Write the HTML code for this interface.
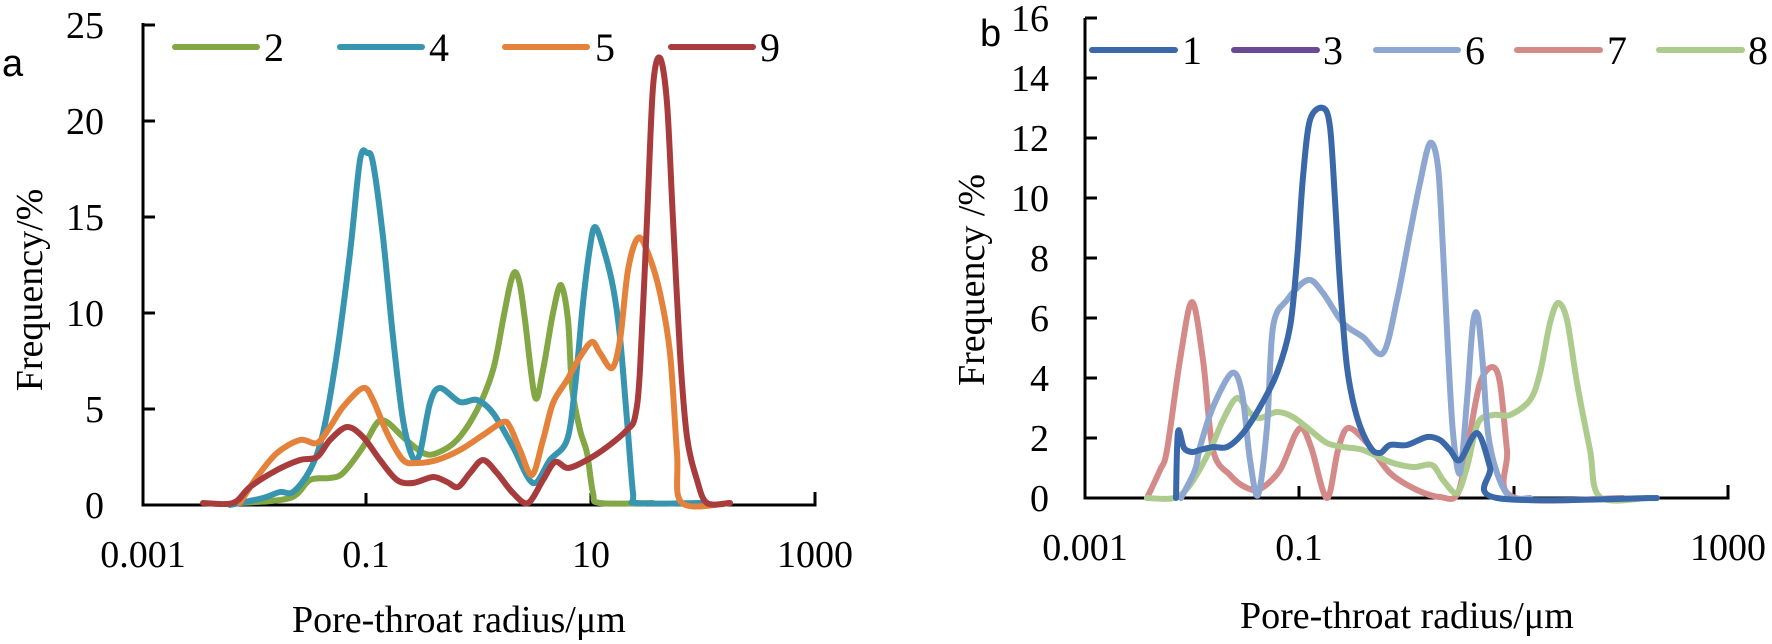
<!DOCTYPE html>
<html><head><meta charset="utf-8"><style>
html,body{margin:0;padding:0;background:#fff;}
svg{display:block;}
text{font-family:"Liberation Serif",serif;fill:#000;}
.c{fill:none;stroke-width:6;stroke-linejoin:round;stroke-linecap:round;}
</style></head><body>
<svg id="s" width="1772" height="644" viewBox="0 0 1772 644" xmlns="http://www.w3.org/2000/svg">
<text x="2" y="76" style="font-family:'Liberation Sans',sans-serif;font-size:38px">a</text>
<g stroke="#000" stroke-width="3" fill="none">
<path d="M143,23 V505 H815 V492"/>
<path d="M143,25 h12 M143,121 h12 M143,217 h12 M143,313 h12 M143,409 h12"/>
<path d="M366,505 v-12 M591,505 v-12"/>
</g>
<g font-size="38" text-anchor="end">
<text x="104" y="38">25</text><text x="104" y="134">20</text><text x="104" y="230">15</text>
<text x="104" y="326">10</text><text x="104" y="422">5</text><text x="104" y="518">0</text>
</g>
<g font-size="38" text-anchor="middle">
<text x="143" y="567">0.001</text><text x="366" y="567">0.1</text><text x="591" y="567">10</text><text x="815" y="567">1000</text>
</g>
<text x="292" y="632" font-size="38">Pore-throat radius/μm</text>
<text transform="translate(42,290) rotate(-90)" font-size="38" text-anchor="middle">Frequency/%</text>
<g class="c" stroke-width="6">
<line x1="175" y1="47" x2="257" y2="47" stroke="#82a744"/>
<line x1="340" y1="47" x2="422" y2="47" stroke="#3795b0"/>
<line x1="505" y1="47" x2="587" y2="47" stroke="#e4813a"/>
<line x1="671" y1="47" x2="753" y2="47" stroke="#a83c3c"/>
</g>
<g font-size="40"><text x="264" y="61">2</text><text x="429" y="61">4</text><text x="595" y="61">5</text><text x="760" y="61">9</text></g>
<polyline class="c sm" stroke="#82a744" points="240,503 290,498 310,480 330,478 343,473 363,447 377,423 387,422 403,437 423,453 437,453 457,440 477,410 493,370 503,320 510,285 515,272 520,285 525,320 535,397 543,370 553,313 561,285 568,320 572,387 580,430 587,453 593,493 600,503 653,503"/>
<polyline class="c sm" stroke="#3795b0" points="230,505 263,498 280,492 293,492 310,470 323,433 337,353 350,253 360,160 367,153 373,163 383,237 393,337 403,420 413,458 420,453 430,403 440,388 460,402 477,400 493,413 513,447 533,483 550,460 567,440 575,387 583,303 590,247 595,227 603,247 613,287 620,337 627,420 633,493 637,503 700,503"/>
<polyline class="c sm" stroke="#e4813a" points="240,503 257,477 277,453 300,440 317,443 330,427 343,407 363,388 373,400 387,433 403,460 417,463 437,460 460,450 483,435 503,422 510,427 520,450 532,475 543,440 553,403 567,380 580,357 592,342 600,353 612,368 620,340 628,270 638,238 648,253 660,293 670,353 677,453 682,503 730,503"/>
<polyline class="c sm" stroke="#a83c3c" points="203,503 233,503 250,487 277,470 300,460 317,457 330,440 347,427 363,437 380,460 397,480 413,483 433,477 447,482 458,487 470,473 483,460 497,473 513,493 528,503 543,480 555,462 568,468 587,460 607,447 627,430 635,417 640,370 647,220 653,87 660,58 667,103 673,220 680,353 687,437 697,480 707,503 730,503"/>

<text x="980" y="46" style="font-family:'Liberation Sans',sans-serif;font-size:38px">b</text>
<g stroke="#000" stroke-width="3" fill="none">
<path d="M1085,18 V498 H1728 V485"/>
<path d="M1085,18 h12 M1085,78 h12 M1085,138 h12 M1085,198 h12 M1085,258 h12 M1085,318 h12 M1085,378 h12 M1085,438 h12"/>
<path d="M1299,498 v-12 M1514,498 v-12"/>
</g>
<g font-size="38" text-anchor="end">
<text x="1049" y="31">16</text><text x="1049" y="91">14</text><text x="1049" y="151">12</text><text x="1049" y="211">10</text>
<text x="1049" y="271">8</text><text x="1049" y="331">6</text><text x="1049" y="391">4</text><text x="1049" y="451">2</text><text x="1049" y="511">0</text>
</g>
<g font-size="38" text-anchor="middle">
<text x="1085" y="560">0.001</text><text x="1299" y="560">0.1</text><text x="1514" y="560">10</text><text x="1728" y="560">1000</text>
</g>
<text x="1240" y="628" font-size="38">Pore-throat radius/μm</text>
<text transform="translate(984,280) rotate(-90)" font-size="38" text-anchor="middle">Frequency /%</text>
<g class="c" stroke-width="6">
<line x1="1092" y1="50" x2="1175" y2="50" stroke="#3a68a8"/>
<line x1="1234" y1="50" x2="1317" y2="50" stroke="#6a4a94"/>
<line x1="1376" y1="50" x2="1458" y2="50" stroke="#8ea7d0"/>
<line x1="1517" y1="50" x2="1600" y2="50" stroke="#d48a88"/>
<line x1="1659" y1="50" x2="1742" y2="50" stroke="#aecb8e"/>
</g>
<g font-size="40"><text x="1182" y="64">1</text><text x="1323" y="64">3</text><text x="1465" y="64">6</text><text x="1607" y="64">7</text><text x="1748" y="64">8</text></g>
<polyline class="c sm" stroke="#d48a88" points="1147,498 1160,470 1167,450 1180,360 1192,302 1203,360 1213,450 1230,475 1245,487 1260,489 1280,470 1295,435 1303,429 1312,450 1327,498 1338,450 1348,428 1367,443 1390,473 1417,490 1440,497 1458,493 1470,433 1480,383 1492,367 1500,383 1507,450 1513,497 1623,498"/>
<polyline class="c sm" stroke="#aecb8e" points="1147,498 1174,498 1190,485 1210,450 1223,420 1237,398 1250,413 1260,418 1277,412 1293,417 1310,430 1327,443 1343,447 1363,450 1390,462 1413,467 1432,465 1443,480 1457,493 1467,467 1478,423 1493,415 1510,415 1530,400 1540,373 1550,323 1558,303 1567,320 1577,383 1590,450 1600,497 1648,498"/>
<polyline class="c sm" stroke="#8ea7d0" points="1181,498 1195,470 1200,447 1213,407 1232,373 1242,393 1250,460 1258,495 1267,427 1273,327 1287,300 1308,280 1323,293 1343,323 1363,337 1383,353 1397,300 1410,233 1420,183 1430,143 1438,167 1443,250 1448,350 1453,433 1460,473 1467,400 1473,323 1478,317 1483,367 1488,433 1497,473 1510,497 1530,498"/>
<polyline class="c sm" stroke="#3a68a8" points="1176,498 1178,432 1184,448 1192,452 1200,450 1213,447 1227,447 1243,433 1260,407 1277,373 1290,327 1297,260 1303,177 1310,120 1323,108 1330,127 1335,200 1340,283 1347,367 1357,417 1370,447 1380,453 1390,445 1407,445 1427,437 1440,440 1450,450 1460,460 1477,433 1490,467 1497,498 1657,498"/>
</svg>
<script>
(function(){
var ns="http://www.w3.org/2000/svg";
document.querySelectorAll("polyline.sm").forEach(function(pl){
  var p=pl.getAttribute("points").trim().split(/\s+/).map(function(s){var a=s.split(",");return [+a[0],+a[1]];});
  var d="M"+p[0][0]+","+p[0][1];
  for(var i=0;i<p.length-1;i++){
    var p0=p[i-1]||p[i],p1=p[i],p2=p[i+1],p3=p[i+2]||p2,t=0.16;
    var c1=[p1[0]+(p2[0]-p0[0])*t,p1[1]+(p2[1]-p0[1])*t];
    var c2=[p2[0]-(p3[0]-p1[0])*t,p2[1]-(p3[1]-p1[1])*t];
    d+=" C"+c1[0].toFixed(1)+","+c1[1].toFixed(1)+" "+c2[0].toFixed(1)+","+c2[1].toFixed(1)+" "+p2[0]+","+p2[1];
  }
  var path=document.createElementNS(ns,"path");
  path.setAttribute("d",d);path.setAttribute("class","c");path.setAttribute("stroke",pl.getAttribute("stroke"));
  pl.parentNode.replaceChild(path,pl);
});
})();
</script>
</body></html>
